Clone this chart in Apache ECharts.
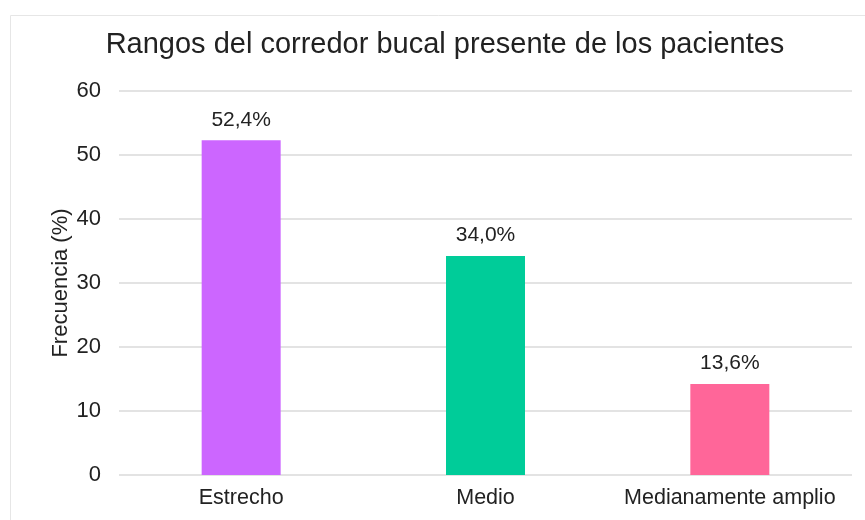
<!DOCTYPE html>
<html>
<head>
<meta charset="utf-8">
<script src="https://cdn.jsdelivr.net/npm/echarts@6/dist/echarts.min.js"></script>
<style>html,body{margin:0;padding:0;background:#fff;}#c{width:865px;height:520px;}</style>
</head>
<body>
<div id="c"></div>
<script>
const categories = ["Estrecho", "Medio", "Medianamente amplio"];
const values = [52.3, 34.2, 14.2];
const valueLabels = ["52,4%", "34,0%", "13,6%"];
const colors = ["#cc66ff", "#00cc99", "#ff6699"];
const yTicks = [0, 10, 20, 30, 40, 50, 60];

const FONT = 'Liberation Sans, Arial, sans-serif';
const chart = echarts.init(document.getElementById('c'));
chart.setOption({
  backgroundColor: '#fff',
  animation: false,
  graphic: [{
    type: 'rect', shape: {x: 10.5, y: 15.5, width: 900, height: 600},
    style: {fill: 'none', stroke: '#e6e6e6', lineWidth: 1}, silent: true, z: -10
  }],
  title: {
    text: 'Rangos del corredor bucal presente de los pacientes',
    left: 445, top: 30, padding: 0, textAlign: 'center',
    textStyle: {fontFamily: FONT, fontSize: 29, fontWeight: 'normal', color: '#222'}
  },
  grid: {left: 119, right: 13, top: 91, bottom: 45},
  xAxis: {
    type: 'category', data: categories,
    axisLine: {show: false}, axisTick: {show: false},
    axisLabel: {fontFamily: FONT, fontSize: 21.5, color: '#222', margin: 12, interval: 0, hideOverlap: false}
  },
  yAxis: {
    type: 'value', min: yTicks[0], max: yTicks[yTicks.length - 1], interval: 10,
    name: 'Frecuencia (%)', nameLocation: 'middle', nameGap: 47, nameRotate: 90,
    nameMoveOverlap: false,
    nameTextStyle: {fontFamily: FONT, fontSize: 22, color: '#222'},
    axisLine: {show: false}, axisTick: {show: false},
    axisLabel: {fontFamily: FONT, fontSize: 22, color: '#222', margin: 18},
    splitLine: {lineStyle: {color: '#e3e3e3', width: 2}}
  },
  series: [{
    type: 'bar', barWidth: 79,
    data: values.map((v, i) => ({value: v, itemStyle: {color: colors[i]}})),
    label: {
      show: true, position: 'top', distance: 10,
      fontFamily: FONT, fontSize: 21, color: '#222',
      formatter: p => valueLabels[p.dataIndex]
    }
  }]
});
</script>
</body>
</html>
